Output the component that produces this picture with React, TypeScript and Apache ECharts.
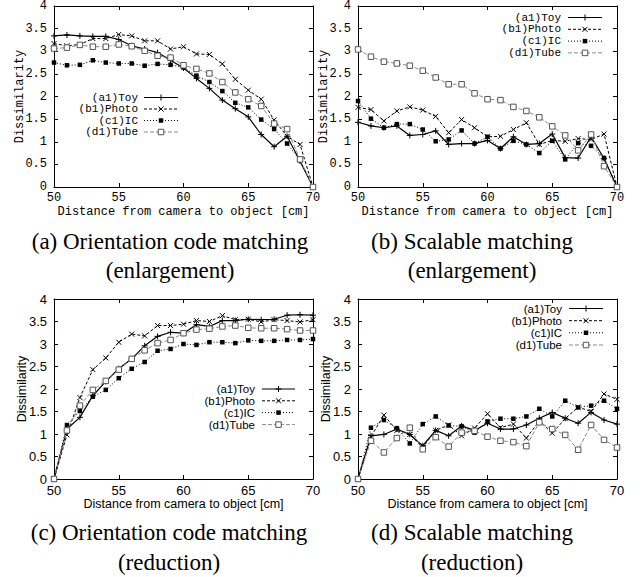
import React, { useEffect, useRef } from 'react';
import * as echarts from 'echarts';

const distances = [50, 51, 52, 53, 54, 55, 56, 57, 58, 59, 60, 61, 62, 63, 64, 65, 66, 67, 68, 69, 70];
const seriesNames = ['(a1)Toy', '(b1)Photo', '(c1)IC', '(d1)Tube'];
const xTicks = [50, 55, 60, 65, 70];
const yTicks = [0, 0.5, 1, 1.5, 2, 2.5, 3, 3.5, 4];
const xAxisTitle = 'Distance from camera to object [cm]';
const yAxisTitle = 'Dissimilarity';

// (a) Orientation code matching (enlargement)
const aToy = [3.34, 3.36, 3.34, 3.33, 3.33, 3.26, 3.12, 3.05, 2.97, 2.8, 2.63, 2.4, 2.18, 1.92, 1.73, 1.55, 1.16, 0.89, 1.12, 0.57, 0];
const aPhoto = [3.17, 3.12, 3.15, 3.28, 3.28, 3.37, 3.34, 3.23, 3.23, 3.05, 3.1, 2.94, 2.93, 2.72, 2.38, 2.14, 1.94, 1.48, 1.12, 0.94, 0];
const aIC = [2.75, 2.69, 2.7, 2.8, 2.75, 2.73, 2.73, 2.68, 2.72, 2.7, 2.64, 2.46, 2.32, 2.12, 1.86, 1.76, 1.49, 1.28, 0.96, 0.59, 0];
const aTube = [3.06, 3.08, 3.14, 3.1, 3.1, 3.15, 3.11, 3.01, 2.9, 2.86, 2.69, 2.61, 2.51, 2.32, 2.09, 1.94, 1.79, 1.4, 1.28, 0.61, 0];

// (b) Scalable matching (enlargement)
const bToy = [1.43, 1.35, 1.31, 1.35, 1.14, 1.16, 1.24, 0.94, 0.96, 0.96, 1.03, 0.85, 1.11, 0.94, 0.96, 1.17, 0.65, 0.64, 1.11, 0.63, 0];
const bPhoto = [1.76, 1.71, 1.46, 1.68, 1.77, 1.7, 1.56, 1.2, 1.49, 1.31, 1.11, 1.12, 1.27, 1.42, 0.94, 1.03, 1.01, 1.07, 1.05, 1.17, 0];
const bIC = [1.9, 1.51, 1.31, 1.39, 1.39, 1.27, 1.01, 1.05, 1.25, 0.96, 1.11, 0.85, 1.02, 0.94, 0.75, 1.02, 0.61, 0.97, 0.91, 0.64, 0];
const bTube = [3.04, 2.88, 2.77, 2.73, 2.68, 2.57, 2.42, 2.27, 2.27, 2.07, 1.94, 1.92, 1.77, 1.68, 1.54, 1.34, 1.14, 0.81, 1.16, 0.46, 0];

// (c) Orientation code matching (reduction)
const cToy = [0, 1.11, 1.37, 1.85, 2.17, 2.45, 2.67, 2.96, 3.17, 3.26, 3.24, 3.43, 3.39, 3.52, 3.52, 3.55, 3.54, 3.55, 3.64, 3.65, 3.64];
const cPhoto = [0, 0.98, 1.81, 2.43, 2.69, 3.04, 3.22, 3.18, 3.41, 3.41, 3.44, 3.52, 3.5, 3.63, 3.54, 3.55, 3.49, 3.54, 3.52, 3.49, 3.54];
const cIC = [0, 1.2, 1.51, 1.83, 1.98, 2.24, 2.45, 2.6, 2.85, 2.89, 3.0, 2.98, 3.04, 3.04, 3.02, 3.08, 3.07, 3.07, 3.09, 3.09, 3.11];
const cTube = [0, 1.08, 1.63, 1.98, 2.18, 2.43, 2.67, 2.86, 3.02, 3.09, 3.24, 3.32, 3.34, 3.39, 3.41, 3.36, 3.35, 3.35, 3.33, 3.3, 3.3];

// (d) Scalable matching (reduction)
const dToy = [0, 0.96, 0.99, 1.11, 0.99, 0.74, 1.08, 0.96, 1.18, 1.08, 1.24, 1.11, 1.11, 1.2, 1.35, 1.48, 1.35, 1.24, 1.48, 1.31, 1.22];
const dPhoto = [0, 0.94, 1.42, 1.08, 0.99, 0.7, 1.08, 1.2, 0.96, 1.13, 1.45, 1.14, 1.22, 0.91, 1.29, 1.02, 1.34, 1.6, 1.5, 1.89, 1.77];
const dIC = [0, 1.14, 1.31, 1.13, 0.79, 1.22, 1.39, 1.19, 1.17, 1.03, 1.28, 1.34, 1.34, 1.39, 1.56, 1.39, 1.74, 1.59, 1.63, 1.74, 1.56];
const dTube = [0, 0.85, 0.59, 0.91, 1.14, 0.66, 0.93, 0.72, 1.03, 1.07, 0.94, 0.85, 0.82, 0.73, 1.26, 1.11, 0.98, 0.65, 1.2, 0.87, 0.7];

const captions = [
  ['(a) Orientation code matching', '(enlargement)'],
  ['(b) Scalable matching', '(enlargement)'],
  ['(c) Orientation code matching', '(reduction)'],
  ['(d) Scalable matching', '(reduction)'],
];

const panelData = [
  [aToy, aPhoto, aIC, aTube],
  [bToy, bPhoto, bIC, bTube],
  [cToy, cPhoto, cIC, cTube],
  [dToy, dPhoto, dIC, dTube],
];

const MONO = '"Liberation Mono", "DejaVu Sans Mono", monospace';
const SANS = '"Liberation Sans", Arial, sans-serif';
const SERIF = '"Liberation Serif", "Times New Roman", serif';
const GRAY = '#8a8a8a';

// layout
const panels = [
  { left: 54, top: 6, width: 259, height: 181, font: MONO, tickSize: 12, legendSize: 11, nameSize: 12, yGap: 28, labelMargin: 7,
    legend: { textRight: 138, x1: 144, x2: 178, rows: [97.5, 109, 120.5, 132] }, cap: { cx: 170, y1: 241, y2: 270 } },
  { left: 358, top: 6, width: 259, height: 181, font: MONO, tickSize: 12, legendSize: 11, nameSize: 12, yGap: 28, labelMargin: 7,
    legend: { textRight: 561, x1: 568, x2: 602, rows: [17.5, 29.3, 41.1, 52.9] }, cap: { cx: 472, y1: 241, y2: 270 } },
  { left: 54, top: 299, width: 259, height: 180, font: SANS, tickSize: 13, legendSize: 11.5, nameSize: 12.5, yGap: 26, labelMargin: 7,
    legend: { textRight: 255, x1: 262, x2: 295, rows: [389, 400.8, 412.6, 424.6] }, cap: { cx: 169, y1: 532, y2: 562 } },
  { left: 358, top: 299, width: 259, height: 180, font: SANS, tickSize: 13, legendSize: 11.5, nameSize: 12.5, yGap: 26, labelMargin: 7,
    legend: { textRight: 562, x1: 569, x2: 603, rows: [308.5, 320.7, 332.8, 345] }, cap: { cx: 472, y1: 532, y2: 562 } },
];

const lineStyles = [
  { color: '#000', width: 1.2, type: 'solid' as any },
  { color: '#000', width: 1, type: [3, 2] as any },
  { color: '#000', width: 1, type: [1, 2] as any },
  { color: GRAY, width: 1, type: [4, 2] as any },
];

const symbols = [
  { symbol: 'path://M5 0L5 10M0 5L10 5', size: 6, itemStyle: { color: '#000', borderColor: '#000', borderWidth: 1 } },
  { symbol: 'path://M0 0L10 10M10 0L0 10', size: 5, itemStyle: { color: '#000', borderColor: '#000', borderWidth: 1 } },
  { symbol: 'rect', size: 4.5, itemStyle: { color: '#000', borderColor: '#000', borderWidth: 0 } },
  { symbol: 'rect', size: 5.5, itemStyle: { color: '#fff', borderColor: '#555', borderWidth: 1 } },
];

function legendGraphics(p: any) {
  const els: any[] = [];
  const L = p.legend;
  seriesNames.forEach((name, i) => {
    const y = L.rows[i];
    const ls = lineStyles[i];
    els.push({
      type: 'text', x: L.textRight, y, silent: true,
      style: { text: name, font: `${p.legendSize}px ${p.font}`, lineHeight: 10, fill: '#000', align: 'right', verticalAlign: 'middle', textAlign: 'right', textVerticalAlign: 'middle' },
    });
    els.push({
      type: 'line', silent: true,
      shape: { x1: L.x1, y1: y, x2: L.x2, y2: y },
      style: { stroke: ls.color, lineWidth: ls.width, lineDash: Array.isArray(ls.type) ? ls.type : null },
    });
    const cx = (L.x1 + L.x2) / 2;
    if (i === 0) {
      els.push({ type: 'line', silent: true, shape: { x1: cx - 3, y1: y, x2: cx + 3, y2: y }, style: { stroke: '#000', lineWidth: 1 } });
      els.push({ type: 'line', silent: true, shape: { x1: cx, y1: y - 3, x2: cx, y2: y + 3 }, style: { stroke: '#000', lineWidth: 1 } });
    } else if (i === 1) {
      els.push({ type: 'line', silent: true, shape: { x1: cx - 2.5, y1: y - 2.5, x2: cx + 2.5, y2: y + 2.5 }, style: { stroke: '#000', lineWidth: 1 } });
      els.push({ type: 'line', silent: true, shape: { x1: cx - 2.5, y1: y + 2.5, x2: cx + 2.5, y2: y - 2.5 }, style: { stroke: '#000', lineWidth: 1 } });
    } else if (i === 2) {
      els.push({ type: 'rect', silent: true, shape: { x: cx - 2.25, y: y - 2.25, width: 4.5, height: 4.5 }, style: { fill: '#000' } });
    } else {
      els.push({ type: 'rect', silent: true, shape: { x: cx - 2.75, y: y - 2.75, width: 5.5, height: 5.5 }, style: { fill: '#fff', stroke: '#555', lineWidth: 1 } });
    }
  });
  return els;
}

function captionGraphics(p: any, lines: string[]) {
  return [
    { type: 'text', x: p.cap.cx, y: p.cap.y1, silent: true,
      style: { text: lines[0], font: `23px ${SERIF}`, fill: '#000', align: 'center', verticalAlign: 'middle', textAlign: 'center', textVerticalAlign: 'middle' } },
    { type: 'text', x: p.cap.cx, y: p.cap.y2, silent: true,
      style: { text: lines[1], font: `23px ${SERIF}`, fill: '#000', align: 'center', verticalAlign: 'middle', textAlign: 'center', textVerticalAlign: 'middle' } },
  ];
}

export default function App() {
  const ref = useRef<HTMLDivElement>(null);
  useEffect(() => {
    if (!ref.current) return;
    const chart = echarts.init(ref.current, undefined, { renderer: 'svg' });
    const grid: any[] = [];
    const xAxis: any[] = [];
    const yAxis: any[] = [];
    const series: any[] = [];
    const graphic: any[] = [];
    const axisLine = { show: true, onZero: false, lineStyle: { color: '#000', width: 1 } };
    const tick = { show: true, inside: true, length: 4, lineStyle: { color: '#000', width: 1 } };
    panels.forEach((p, pi) => {
      grid.push({ left: p.left, top: p.top, width: p.width, height: p.height, containLabel: false, show: false });
      const xMin = xTicks[0], xMax = xTicks[xTicks.length - 1];
      const yMin = yTicks[0], yMax = yTicks[yTicks.length - 1];
      const xInt = xTicks[1] - xTicks[0], yInt = yTicks[1] - yTicks[0];
      xAxis.push({
        type: 'value', gridIndex: pi, position: 'bottom', min: xMin, max: xMax, interval: xInt,
        axisLine, axisTick: tick, splitLine: { show: false },
        axisLabel: { color: '#000', fontFamily: p.font, fontSize: p.tickSize, lineHeight: p.tickSize, margin: 5 },
        name: xAxisTitle, nameLocation: 'middle', nameGap: 19, nameMoveOverlap: false,
        nameTextStyle: { color: '#000', fontFamily: p.font, fontSize: p.nameSize, lineHeight: p.nameSize },
      });
      xAxis.push({
        type: 'value', gridIndex: pi, position: 'top', min: xMin, max: xMax, interval: xInt,
        axisLine, axisTick: tick, splitLine: { show: false }, axisLabel: { show: false },
      });
      yAxis.push({
        type: 'value', gridIndex: pi, position: 'left', min: yMin, max: yMax, interval: yInt,
        axisLine, axisTick: tick, splitLine: { show: false },
        axisLabel: { color: '#000', fontFamily: p.font, fontSize: p.tickSize, margin: p.labelMargin },
        name: yAxisTitle, nameLocation: 'middle', nameGap: p.yGap, nameRotate: 90, nameMoveOverlap: false,
        nameTextStyle: { color: '#000', fontFamily: p.font, fontSize: p.nameSize, lineHeight: p.nameSize },
      });
      yAxis.push({
        type: 'value', gridIndex: pi, position: 'right', min: yMin, max: yMax, interval: yInt,
        axisLine, axisTick: tick, splitLine: { show: false }, axisLabel: { show: false },
      });
      panelData[pi].forEach((vals, si) => {
        const sym = symbols[si];
        series.push({
          type: 'line', name: seriesNames[si], xAxisIndex: pi * 2, yAxisIndex: pi * 2,
          data: distances.map((d, k) => [d, vals[k]]),
          symbol: sym.symbol, symbolSize: sym.size, showSymbol: true, showAllSymbol: true,
          itemStyle: sym.itemStyle,
          lineStyle: { color: lineStyles[si].color, width: lineStyles[si].width, type: lineStyles[si].type },
          silent: true, clip: false, emphasis: { disabled: true }, z: 2 + si,
        });
      });
      graphic.push(...legendGraphics(p));
      graphic.push(...captionGraphics(p, captions[pi]));
    });
    chart.setOption({
      animation: false,
      backgroundColor: '#fff',
      grid, xAxis, yAxis, series,
      graphic: { elements: graphic },
    });
    return () => chart.dispose();
  }, []);
  return <div ref={ref} style={{ position: 'absolute', left: 0, top: 0, width: 640, height: 577 }} />;
}
